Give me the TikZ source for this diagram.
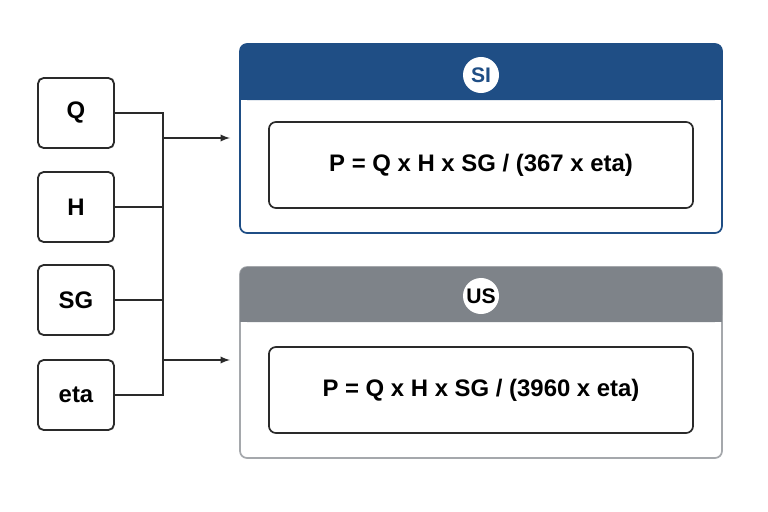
\documentclass[tikz,border=0pt]{standalone}
\usepackage{fontspec}
\setmainfont{Liberation Sans}
\definecolor{siblue}{HTML}{1F4E85}
\definecolor{usgray}{HTML}{7E8389}
\definecolor{edge}{HTML}{2A2A2A}
\tikzset{
  var/.style={draw=edge, line width=1.3pt, rounded corners=4pt, minimum width=1.9cm, minimum height=1.75cm, font=\fontsize{17}{20}\selectfont\bfseries},
  formula/.style={draw=edge, line width=1.2pt, rounded corners=5pt, minimum width=10.6cm, minimum height=2.15cm, font=\fontsize{17}{20}\selectfont\bfseries},
  badge/.style={circle, fill=white, minimum size=0.9cm, inner sep=0pt, font=\fontsize{15}{18}\selectfont\bfseries},
  wire/.style={edge, line width=1.3pt},
}
\begin{document}
\begin{tikzpicture}[x=0.025cm, y=-0.025cm]
\useasboundingbox (0,0) rectangle (768,512);
% input variables
\node[var] (q) at (76,113) {Q};
\node[var] (h) at (76,207) {H};
\node[var] (sg) at (76,300) {SG};
\node[var] (eta) at (76,395) {eta};
\coordinate (top) at (163,113);
\coordinate (bot) at (163,395);
\coordinate (a1) at (163,138);
\coordinate (a2) at (163,360);
\coordinate (t1) at (230,138);
\coordinate (t2) at (230,360);
\draw[wire] (q.east) -- (top) -- (bot) -- (eta.east);
\draw[wire] (h.east) -- (h.east -| top);
\draw[wire] (sg.east) -- (sg.east -| top);
\draw[wire, -latex] (a1) -- (t1);
\draw[wire, -latex] (a2) -- (t2);
% SI panel
\draw[siblue, line width=1.2pt, fill=white, rounded corners=5pt] (240,44) rectangle (722,233);
\fill[siblue, rounded corners=5pt] (240,44) rectangle (722,100);
\fill[siblue] (240,80) rectangle (722,100);
\node[badge, text=siblue] (si) at (481,75) {SI};
\node[formula] (fsi) at (481,165) {P = Q x H x SG / (367 x eta)};
% US panel
\draw[usgray!70, line width=1.2pt, fill=white, rounded corners=5pt] (240,267) rectangle (722,458);
\fill[usgray, rounded corners=5pt] (240,267) rectangle (722,322);
\fill[usgray] (240,300) rectangle (722,322);
\node[badge] (us) at (481,296) {US};
\node[formula] (fus) at (481,390) {P = Q x H x SG / (3960 x eta)};
\end{tikzpicture}
\end{document}
